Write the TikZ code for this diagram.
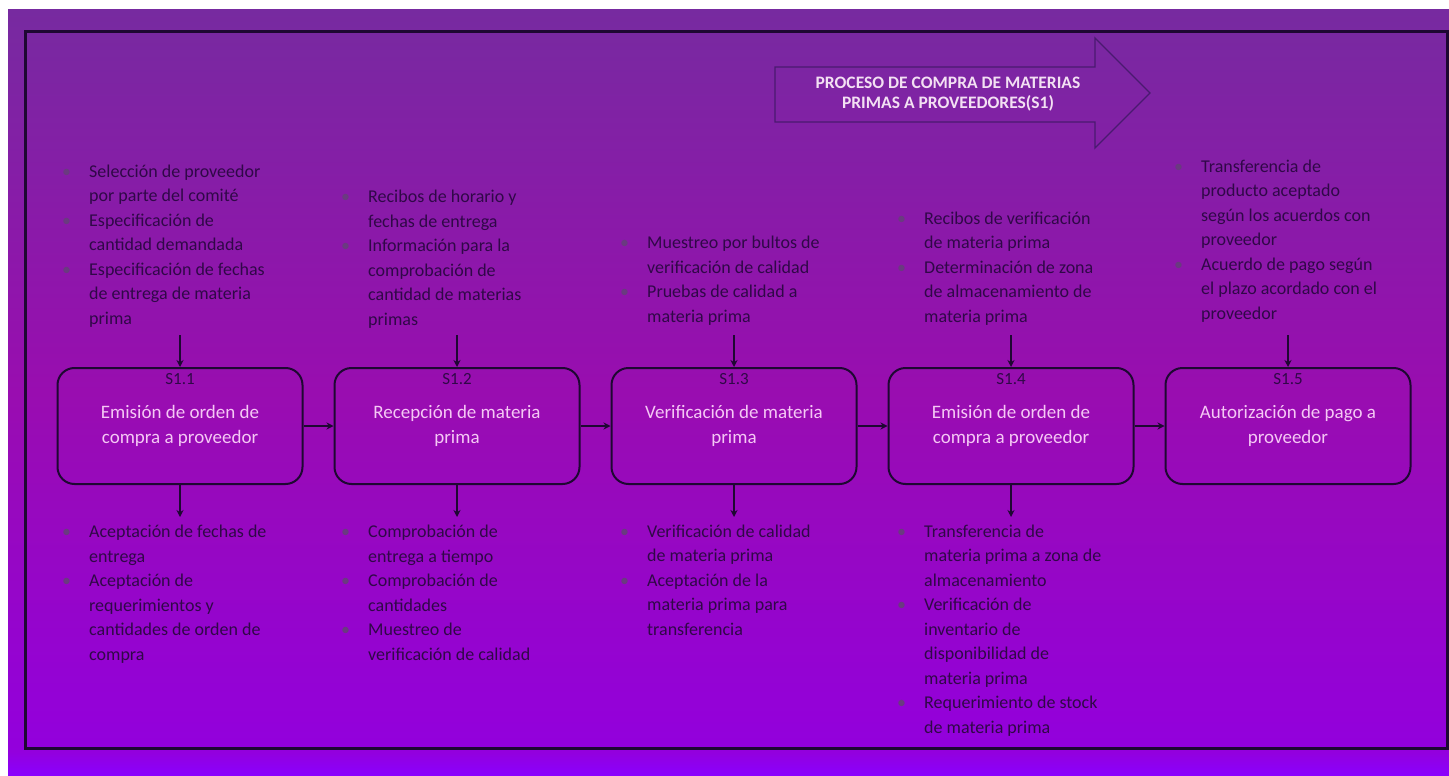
\documentclass[tikz,border=0pt]{standalone}
\usepackage{fontspec}
\setmainfont{Carlito}
\usetikzlibrary{arrows.meta}

\definecolor{bgtop}{HTML}{772AA0}
\definecolor{bgmid}{HTML}{990DB0}
\definecolor{bglow}{HTML}{9300DD}
\definecolor{bgedge}{HTML}{8A00FF}
\definecolor{ink}{HTML}{300848}
\definecolor{rule}{HTML}{1E0832}
\definecolor{arrowline}{HTML}{4A1A70}
\definecolor{boxtext}{HTML}{F5C8F5}
\definecolor{titletext}{HTML}{F3E0F3}
\definecolor{dotgray}{HTML}{6A3A80}

% page background: purple at the top, magenta in the middle, violet at the foot
\pgfdeclareverticalshading{pagebg}{100bp}{color(0bp)=(bgedge); color(25bp)=(bgedge); color(26.6bp)=(bglow); color(50bp)=(bgmid); color(75bp)=(bgtop); color(100bp)=(bgtop)}

\newcommand\bulletline[1]{\makebox[27pt][l]{\textcolor{dotgray}{\textbullet}}#1}
\newcommand\moreline[1]{\hspace*{27pt}#1}

\tikzset{
  stepbox/.style={draw=rule, line width=2pt, rounded corners=17pt,
    minimum width=245pt, minimum height=116pt, text=boxtext, align=center,
    font=\fontsize{19}{25}\selectfont, inner sep=0pt},
  steptag/.style={text=ink, font=\fontsize{17}{19}\selectfont, inner sep=0pt},
  notes/.style={anchor=base west, inner sep=0pt, align=left, text=ink,
    font=\fontsize{18}{24.5}\selectfont},
  flow/.style={draw=rule, line width=1.8pt, -{Stealth[length=7pt,width=7pt]}},
}

\begin{document}
\begin{tikzpicture}[x=1pt, y=-1pt]
\useasboundingbox (0,0) rectangle (1449,776);
\fill[white] (0,0) rectangle (1449,776);
\shade[shading=pagebg] (8,10) rectangle (1449,776);

% outer frame
\draw[rule, line width=3pt] (25,32) rectangle (1447,748);

% process title arrow
\draw[arrowline, line width=1.3pt] (775,67) -- (1095,67) -- (1095,38) -- (1150,93)
  -- (1095,148) -- (1095,122) -- (775,122) -- cycle;
\node[text=titletext, align=center, font=\bfseries\fontsize{17.5}{20.5}\selectfont] (title)
  at (948,94) {PROCESO DE COMPRA DE MATERIAS\\PRIMAS A PROVEEDORES(S1)};

% process steps
\node[stepbox] (b1) at (180,426) {Emisión de orden de\\compra a proveedor};
\node[stepbox] (b2) at (457,426) {Recepción de materia\\prima};
\node[stepbox] (b3) at (734,426) {Verificación de materia\\prima};
\node[stepbox] (b4) at (1011,426) {Emisión de orden de\\compra a proveedor};
\node[stepbox] (b5) at (1288,426) {Autorización de pago a\\proveedor};

\node[steptag] (s1) at (180,379) {S1.1};
\node[steptag] (s2) at (457,379) {S1.2};
\node[steptag] (s3) at (734,379) {S1.3};
\node[steptag] (s4) at (1011,379) {S1.4};
\node[steptag] (s5) at (1288,379) {S1.5};

\draw[flow] (b1.east) -- (b2.west);
\draw[flow] (b2.east) -- (b3.west);
\draw[flow] (b3.east) -- (b4.west);
\draw[flow] (b4.east) -- (b5.west);

% inputs above each step (placed by the baseline of their last line)
\node[notes] (in1) at (62,324) {\bulletline{Selección de proveedor}\\\moreline{por parte del comité}\\
  \bulletline{Especificación de}\\\moreline{cantidad demandada}\\
  \bulletline{Especificación de fechas}\\\moreline{de entrega de materia}\\\moreline{prima}};
\node[notes] (in2) at (341,325) {\bulletline{Recibos de horario y}\\\moreline{fechas de entrega}\\
  \bulletline{Información para la}\\\moreline{comprobación de}\\\moreline{cantidad de materias}\\\moreline{primas}};
\node[notes] (in3) at (620,322) {\bulletline{Muestreo por bultos de}\\\moreline{verificación de calidad}\\
  \bulletline{Pruebas de calidad a}\\\moreline{materia prima}};
\node[notes] (in4) at (897,322) {\bulletline{Recibos de verificación}\\\moreline{de materia prima}\\
  \bulletline{Determinación de zona}\\\moreline{de almacenamiento de}\\\moreline{materia prima}};
\node[notes] (in5) at (1174,319) {\bulletline{Transferencia de}\\\moreline{producto aceptado}\\\moreline{según los acuerdos con}\\\moreline{proveedor}\\
  \bulletline{Acuerdo de pago según}\\\moreline{el plazo acordado con el}\\\moreline{proveedor}};

\coordinate (t1) at (180,335);
\coordinate (t2) at (457,335);
\coordinate (t3) at (734,335);
\coordinate (t4) at (1011,335);
\coordinate (t5) at (1288,335);
\draw[flow] (t1) -- (b1.north);
\draw[flow] (t2) -- (b2.north);
\draw[flow] (t3) -- (b3.north);
\draw[flow] (t4) -- (b4.north);
\draw[flow] (t5) -- (b5.north);

% outputs below each step
\coordinate (d1) at (180,517);
\coordinate (d2) at (457,517);
\coordinate (d3) at (734,517);
\coordinate (d4) at (1011,517);
\draw[flow] (b1.south) -- (d1);
\draw[flow] (b2.south) -- (d2);
\draw[flow] (b3.south) -- (d3);
\draw[flow] (b4.south) -- (d4);

\node[notes] (out1) at (62,660) {\bulletline{Aceptación de fechas de}\\\moreline{entrega}\\
  \bulletline{Aceptación de}\\\moreline{requerimientos y}\\\moreline{cantidades de orden de}\\\moreline{compra}};
\node[notes] (out2) at (341,660) {\bulletline{Comprobación de}\\\moreline{entrega a tiempo}\\
  \bulletline{Comprobación de}\\\moreline{cantidades}\\
  \bulletline{Muestreo de}\\\moreline{verificación de calidad}};
\node[notes] (out3) at (620,635) {\bulletline{Verificación de calidad}\\\moreline{de materia prima}\\
  \bulletline{Aceptación de la}\\\moreline{materia prima para}\\\moreline{transferencia}};
\node[notes] (out4) at (897,733) {\bulletline{Transferencia de}\\\moreline{materia prima a zona de}\\\moreline{almacenamiento}\\
  \bulletline{Verificación de}\\\moreline{inventario de}\\\moreline{disponibilidad de}\\\moreline{materia prima}\\
  \bulletline{Requerimiento de stock}\\\moreline{de materia prima}};
\end{tikzpicture}
\end{document}
